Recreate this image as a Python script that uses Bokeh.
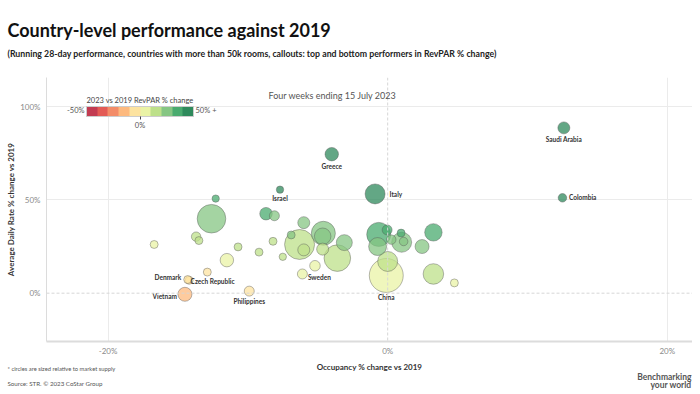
import numpy as np
from bokeh.plotting import figure
from bokeh.layouts import column
from bokeh.models import (ColumnDataSource, Range1d, FixedTicker, PrintfTickFormatter,
                          Span, Label, ColorBar, LinearColorMapper, Title)
from bokeh.transform import linear_cmap
from bokeh.core.properties import value, field
from bokeh.embed import file_html
from bokeh.resources import INLINE

# ---------------- data ----------------
countries = ["Saudi Arabia", "Colombia", "Greece", "Italy", "Israel", "", "", "", "", "",
             "", "", "", "", "", "", "", "", "Denmark", "Czech Republic",
             "Vietnam", "Philippines", "Sweden", "", "", "", "", "", "", "",
             "", "", "", "", "", "", "", "", "", "",
             "", "", "", "China", "", ""]
occ_change = [12.6, 12.5, -4.0, -0.9, -7.7, -12.3, -12.6, -8.7, -8.1, -13.7,
              -13.5, -16.7, -10.7, -9.2, -8.2, -7.5, -11.5, -12.9, -14.3, -14.2,
              -14.5, -9.9, -6.1, -5.2, -6.9, -6.3, -6.0, -6.0, -4.6, -4.65,
              -3.1, -3.6, -4.65, -0.64, -0.04, -0.72, 0.26, 0.96, 1.0, 1.14,
              2.46, 3.27, 0.0, -0.1, 3.27, 4.77]
adr_change = [88.6, 51.1, 74.5, 53.2, 55.5, 50.7, 39.9, 42.6, 41.5, 30.3,
              28.2, 26.1, 24.8, 22.0, 27.8, 19.5, 17.7, 11.3, 7.3, 6.9,
              -0.6, 1.1, 10.3, 14.7, 31.2, 26.1, 23.2, 37.8, 32.1, 30.5,
              27.1, 18.8, 23.6, 31.5, 33.9, 25.0, 28.7, 32.2, 27.3, 27.7,
              25.0, 32.6, 17.0, 9.5, 10.3, 5.5]
revpar_change = [113, 70, 67, 52, 44, 32, 22, 31, 27, 12,
                 11, 5, 11, 11, 17, 11, 4, -3, -8, -8,
                 -15, -9, 4, 9, 22, 18, 16, 27, 26, 28,
                 23, 15, 18, 31, 36, 24, 29, 33, 29, 29,
                 22, 37, 17, 9, 14, 9]
supply_k = [375, 190, 470, 1040, 140, 140, 2130, 410, 260, 230,
            165, 165, 165, 165, 165, 140, 470, 165, 165, 165,
            510, 260, 260, 290, 165, 2340, 375, 375, 1500, 715,
            665, 1840, 375, 1500, 260, 840, 230, 165, 1040, 190,
            510, 790, 1040, 3000, 1100, 165]

x_ticks = [-20, 0, 20]
y_ticks = [0, 50, 100]
legend_palette = ["#c23b51", "#e35b55", "#f38c68", "#fdb97e", "#fde3a0",
                  "#eaf3a6", "#bde08a", "#86c683", "#4aab6f", "#2f8a5c"]
legend_low, legend_high = -50, 50

title_text = "Country-level performance against 2019"
subtitle_text = ("(Running 28-day performance, countries with more than 50k rooms, "
                 "callouts: top and bottom performers in RevPAR % change)")
period_text = "Four weeks ending 15 July 2023"
x_label = "Occupancy % change vs 2019"
y_label = "Average Daily Rate % change vs 2019"
legend_title = "2023 vs 2019 RevPAR % change"
note_text = "* circles are sized relative to market supply"
source_text = "Source: STR. \u00a9 2023 CoStar Group"

# ---------------- layout / style ----------------
FONT = "Lato"
W = 692
H_MAIN, H_FOOT = 358, 32
ML, MR, MT, MB = 46, 0, 77, 15
FRAME_W = W - ML - MR
FRAME_H = H_MAIN - MT - MB
LEFT_OFF = 7 - ML  # titles start 7px from the page edge


def add_title(f, text, size, color, bold, align, standoff):
    f.add_layout(Title(text=text, align=align, vertical_align="middle",
                       offset=LEFT_OFF if align == "left" else (1 if align == "right" else 0),
                       standoff=standoff, text_font=FONT, text_font_size=size,
                       text_font_style="bold" if bold else "normal",
                       text_color=color), "above")


# main chart
p = figure(width=W, height=H_MAIN, output_backend="svg", toolbar_location=None,
           x_range=Range1d(-24.4, 21.8), y_range=Range1d(-25.9, 115.6),
           min_border_left=ML, min_border_right=MR, min_border_top=MT, min_border_bottom=MB)
p.outline_line_color = None
p.title = None
# titles stacked upward from the frame
add_title(p, subtitle_text, "8.75px", "#222222", True, "left", 35)
add_title(p, title_text, "18px", "#111111", True, "left", -34)

p.xgrid.ticker = FixedTicker(ticks=[t for t in x_ticks if t != 0])
p.ygrid.ticker = FixedTicker(ticks=[t for t in y_ticks if t != 0])
p.xgrid.grid_line_color = "#ebebeb"
p.ygrid.grid_line_color = "#ebebeb"
p.add_layout(Span(location=0, dimension="height", line_color="#d6d6d6",
                  line_dash="3 2", line_width=1))
p.add_layout(Span(location=0, dimension="width", line_color="#d6d6d6",
                  line_dash="3 2", line_width=1))

for ax, ticks in ((p.xaxis, x_ticks), (p.yaxis, y_ticks)):
    ax.ticker = FixedTicker(ticks=ticks)
    ax.formatter = PrintfTickFormatter(format="%d%%")
    ax.major_tick_line_color = None
    ax.minor_tick_line_color = None
    ax.major_tick_out = 0
    ax.major_tick_in = 0
    ax.minor_tick_out = 0
    ax.minor_tick_in = 0
    ax.major_label_text_font = FONT
    ax.major_label_text_font_size = "8px"
    ax.major_label_text_color = "#8a8a8a"
    ax.axis_label_text_font = FONT
    ax.axis_label_text_font_size = "8px"
    ax.axis_label_text_font_style = "bold"
    ax.axis_label_text_color = "#333333"
    ax.axis_line_color = "#dcdcdc"
p.xaxis.axis_line_width = 2
p.xaxis.major_label_standoff = 4
p.yaxis.axis_label = y_label
p.yaxis.major_label_standoff = 6
p.yaxis.axis_label_standoff = 1

size = 0.62 * np.sqrt(np.array(supply_k, dtype=float))
order = np.argsort(-size)
src = ColumnDataSource(dict(
    x=np.array(occ_change)[order], y=np.array(adr_change)[order],
    revpar=np.array(revpar_change)[order], size=size[order]))
p.scatter("x", "y", size="size", source=src,
          fill_color=linear_cmap("revpar", legend_palette, legend_low, legend_high),
          fill_alpha=0.75, line_color="#555555", line_alpha=0.6, line_width=0.7)

label_style = {  # align, dx (px), dy (px, down)
    "Saudi Arabia": ("center", 0, 11.5),
    "Colombia": ("left", 6.5, 0),
    "Greece": ("center", 0, 12.5),
    "Italy": ("left", 14.5, 1),
    "Israel": ("center", 0, 9),
    "Denmark": ("right", -6.5, -2),
    "Czech Republic": ("left", 1.5, 1.5),
    "Vietnam": ("right", -8, 2.5),
    "Philippines": ("center", 0, 10),
    "Sweden": ("left", 5.5, 4),
    "China": ("center", 0, 22.5),
}
lab = [i for i, c in enumerate(countries) if c]
lsrc = ColumnDataSource(dict(
    x=[occ_change[i] for i in lab], y=[adr_change[i] for i in lab],
    text=[countries[i] for i in lab],
    align=[label_style[countries[i]][0] for i in lab],
    dx=[label_style[countries[i]][1] for i in lab],
    dy=[label_style[countries[i]][2] for i in lab]))
p.text("x", "y", text="text", source=lsrc, x_offset="dx", y_offset="dy",
       text_align=field("align"), text_baseline="middle", text_font=value(FONT),
       text_font_style="bold", text_font_size="6.5px", text_color="#333333")

# frame-relative screen positions (origin: frame bottom-left), from picture coords
FRAME_LEFT_IMG, FRAME_TOP_IMG = ML, MT


def fx(px):
    return px - FRAME_LEFT_IMG


def fy(py):
    return FRAME_H - (py - FRAME_TOP_IMG)


mapper = LinearColorMapper(palette=legend_palette, low=legend_low, high=legend_high)
cb = ColorBar(color_mapper=mapper, orientation="horizontal", width=107, height=10,
              location=(fx(86), fy(134)), padding=0,
              ticker=FixedTicker(ticks=[0]), formatter=PrintfTickFormatter(format="%d%%"),
              major_tick_out=3, major_tick_in=0, major_tick_line_color="#444444",
              major_label_text_font=FONT, major_label_text_font_size="7.5px",
              major_label_text_color="#555555", label_standoff=1,
              title=legend_title, title_text_font=FONT,
              title_text_font_size="7.5px", title_text_font_style="normal",
              title_text_color="#444444", title_standoff=3,
              bar_line_color="#cccccc", background_fill_alpha=0, border_line_color=None)
p.add_layout(cb)


def screen_label(text, x, y, size, color, align="left"):
    p.add_layout(Label(x=x, y=y, x_units="screen", y_units="screen", text=text,
                       text_font=FONT, text_font_size=size, text_color=color,
                       text_align=align, text_baseline="middle"))


screen_label("-50%", fx(84), fy(112), "7.5px", "#555555", align="right")
screen_label("50% +", fx(195), fy(112), "7.5px", "#555555")
screen_label(period_text, fx(332), fy(97), "9px", "#555555", align="center")

# footer band: texts stacked upward from its (empty) frame
foot = figure(width=W, height=H_FOOT, output_backend="svg", toolbar_location=None,
              x_range=Range1d(0, 1), y_range=Range1d(0, 1),
              x_axis_location=None, y_axis_location=None,
              min_border_left=ML, min_border_right=MR,
              min_border_top=26, min_border_bottom=0, outline_line_color=None)
foot.grid.visible = False
foot.title = None
add_title(foot, "your world", "8.5px", "#555555", True, "right", -12)
add_title(foot, source_text, "6.2px", "#555555", False, "left", -7)
add_title(foot, "Benchmarking", "8.5px", "#555555", True, "right", 0)
add_title(foot, note_text, "5.8px", "#555555", False, "left", -5)
add_title(foot, x_label, "8px", "#333333", True, "center", -12)

layout = column(p, foot, spacing=0)
open("out.html", "w").write(file_html(layout, INLINE))
